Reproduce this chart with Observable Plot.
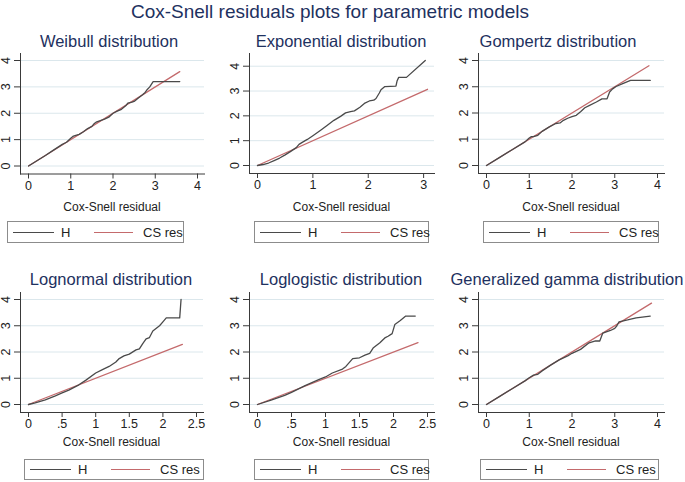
<!DOCTYPE html>
<html><head><meta charset="utf-8">
<script src="https://cdn.jsdelivr.net/npm/d3@7"></script>
<script src="https://cdn.jsdelivr.net/npm/@observablehq/plot@0.6"></script>
<style>
body{margin:0;background:#fff;font-family:"Liberation Sans",Arial,sans-serif;}
#root{position:relative;width:685px;height:482px;overflow:hidden;background:#fff;}
.abs{position:absolute;white-space:nowrap;line-height:1;}
.ttl{color:#1e3160;}
.lg{position:absolute;border:1px solid #8c8c8c;box-sizing:border-box;background:#fff;}
.lg span{position:absolute;}
svg{position:absolute;overflow:visible;}
</style></head><body><div id="root"></div>
<script>
// ---------- data ----------
const mainTitle = "Cox-Snell residuals plots for parametric models";
const panelTitles = ["Weibull distribution","Exponential distribution","Gompertz distribution",
  "Lognormal distribution","Loglogistic distribution","Generalized gamma distribution"];
const xAxisTitle = "Cox-Snell residual";
const seriesNames = ["H","CS res"];

const yTicks = [0,1,2,3,4];
const yTickLabels = ["0","1","2","3","4"];
const xTicks4 = [0,1,2,3,4];
const xTickLabels4 = ["0","1","2","3","4"];
const xTicks3 = [0,1,2,3];
const xTickLabels3 = ["0","1","2","3"];
const xTicks25 = [0,0.5,1,1.5,2,2.5];
const xTickLabels25 = ["0",".5","1","1.5","2","2.5"];

// Nelson-Aalen cumulative hazard H
const weibullX = [0,0.2,0.4,0.6,0.8,0.9,1.0,1.05,1.1,1.2,1.3,1.4,1.5,1.55,1.6,1.7,1.8,1.9,2.0,2.1,2.2,2.3,2.35,2.45,2.5,2.6,2.7,2.76,2.8,2.87,2.95,3.58];
const weibullH = [0,0.2,0.4,0.61,0.82,0.9,1.05,1.12,1.15,1.2,1.3,1.42,1.5,1.6,1.66,1.72,1.78,1.85,2.0,2.08,2.15,2.28,2.38,2.42,2.45,2.58,2.7,2.79,2.88,3.0,3.2,3.2];
const expX = [0,0.1,0.2,0.3,0.4,0.5,0.6,0.7,0.75,0.8,0.9,1.0,1.14,1.25,1.38,1.5,1.59,1.68,1.75,1.85,1.93,2.02,2.1,2.14,2.2,2.23,2.3,2.5,2.52,2.55,2.69,3.03];
const expH = [0,0.04,0.1,0.2,0.3,0.43,0.57,0.72,0.85,0.92,1.05,1.2,1.42,1.6,1.82,1.98,2.12,2.17,2.2,2.35,2.5,2.6,2.63,2.7,2.92,3.05,3.18,3.2,3.4,3.55,3.55,4.23];
const gompX = [0,0.3,0.6,0.9,1.0,1.05,1.1,1.2,1.3,1.47,1.62,1.72,1.8,1.9,2.0,2.1,2.2,2.3,2.4,2.57,2.7,2.82,2.88,2.95,3.03,3.2,3.37,3.83];
const gompH = [0,0.3,0.6,0.9,1.05,1.1,1.1,1.15,1.3,1.47,1.6,1.62,1.72,1.8,1.86,1.91,2.05,2.2,2.28,2.42,2.54,2.54,2.8,2.92,3.01,3.13,3.24,3.24];
const lognX = [0,0.1,0.25,0.4,0.5,0.6,0.75,0.85,1.0,1.1,1.2,1.3,1.35,1.42,1.5,1.6,1.65,1.7,1.75,1.8,1.85,1.95,2.0,2.05,2.25,2.27];
const lognH = [0,0.06,0.18,0.33,0.44,0.55,0.75,0.92,1.2,1.33,1.45,1.62,1.75,1.85,1.92,2.08,2.12,2.32,2.5,2.55,2.8,3.0,3.15,3.3,3.3,4.0];
const loglX = [0,0.2,0.4,0.5,0.7,0.9,1.0,1.1,1.25,1.3,1.4,1.5,1.58,1.65,1.7,1.8,1.88,1.92,1.98,2.02,2.1,2.18,2.32];
const loglH = [0,0.17,0.35,0.46,0.72,0.95,1.05,1.2,1.35,1.45,1.75,1.78,1.88,1.95,2.15,2.35,2.55,2.6,2.7,3.05,3.2,3.37,3.37];
const ggX = [0,0.3,0.6,0.9,1.0,1.1,1.2,1.3,1.5,1.7,1.9,2.0,2.2,2.4,2.55,2.65,2.72,2.9,3.0,3.05,3.1,3.3,3.5,3.83];
const ggH = [0,0.3,0.6,0.9,1.02,1.12,1.15,1.28,1.5,1.7,1.85,1.95,2.1,2.35,2.42,2.42,2.72,2.82,2.9,3.0,3.15,3.22,3.3,3.37];

// Cox-Snell residual range (reference line CS res vs CS res)
const csResMax = [3.58, 3.07, 3.8, 2.29, 2.36, 3.86];
const xDomainMax = [4, 3.07, 4, 2.5, 2.5, 4];
const yDomainMax = [4, 4.23, 4, 4, 4, 4];

const hXs = [weibullX, expX, gompX, lognX, loglX, ggX];
const hYs = [weibullH, expH, gompH, lognH, loglH, ggH];
const xTickSets = [xTicks4, xTicks3, xTicks4, xTicks25, xTicks25, xTicks4];
const xLabelSets = [xTickLabels4, xTickLabels3, xTickLabels4, xTickLabels25, xTickLabels25, xTickLabels4];

// ---------- layout ----------
const frames = [
  {L:20, R:204, T:52.5, B:173}, {L:249, R:434, T:53, B:173}, {L:478, R:664, T:53, B:173},
  {L:20, R:203, T:292, B:412}, {L:249, R:434, T:292, B:412}, {L:478, R:664, T:292, B:412}
];
const titleCenters = [109, 341, 558, 111, 341, 567];
const legendBoxes = [
  {x:7, y:221, w:177, h:22}, {x:254, y:221, w:175, h:22}, {x:483, y:221, w:176, h:22},
  {x:24, y:459, w:180, h:21}, {x:254, y:459, w:175, h:21}, {x:480, y:459, w:179, h:21}
];
const COL_H = "#4a4a4a", COL_CS = "#c46a6c", NAVY = "#1e3160", INK = "#222";
const FONT = "'Liberation Sans', Arial, sans-serif";

const root = document.getElementById("root");
function addText(txt, cx, baseline, size, cls, color) {
  const d = document.createElement("div");
  d.className = "abs " + (cls || "");
  d.textContent = txt;
  d.style.fontSize = size + "px";
  d.style.left = cx + "px";
  d.style.top = (baseline - 0.8465 * size) + "px";
  d.style.transform = "translateX(-50%)";
  if (color) d.style.color = color;
  root.appendChild(d);
}

addText(mainTitle, 330, 18.5, 19, "ttl");

for (let i = 0; i < 6; i++) {
  const f = frames[i];
  const mL = 22, mR = 8, mT = 6, mB = 24;
  const W = (f.R - f.L) + mL + mR, H = (f.B - f.T) + mT + mB;
  const hData = hXs[i].map((x, j) => ({x, y: hYs[i][j], s: seriesNames[0]}));
  const csData = [0, csResMax[i]].map(v => ({x: v, y: v, s: seriesNames[1]}));
  const xt = xTickSets[i], xl = xLabelSets[i];
  const svg = Plot.plot({
    width: W, height: H,
    marginLeft: mL, marginRight: mR, marginTop: mT, marginBottom: mB,
    insetLeft: 8, insetRight: 7, insetTop: 7, insetBottom: 8,
    x: {domain: [0, xDomainMax[i]]},
    y: {domain: [0, yDomainMax[i]]},
    style: {fontFamily: FONT, fontSize: "12.5px", color: INK, background: "transparent", overflow: "visible"},
    marks: [
      Plot.gridY(yTicks, {stroke: "#dbe7ec", strokeOpacity: 1, strokeWidth: 1}),
      Plot.line(csData, {x: "x", y: "y", stroke: COL_CS, strokeWidth: 1.3}),
      Plot.line(hData, {x: "x", y: "y", stroke: COL_H, strokeWidth: 1.3}),
      Plot.frame({anchor: "left", stroke: "#3a3a3a"}),
      Plot.frame({anchor: "bottom", stroke: "#3a3a3a"}),
      Plot.axisX(xt, {tickSize: 5, tickPadding: 2, tickFormat: d => xl[xt.indexOf(d)], label: null, stroke: "#3a3a3a", fill: INK, fontSize: 12.5}),
      Plot.axisY(yTicks, {tickSize: 6, tickFormat: () => "", label: null, stroke: "#3a3a3a"}),
      Plot.text(yTicks, {y: d => d, text: d => yTickLabels[yTicks.indexOf(d)], frameAnchor: "left", dx: -15,
        rotate: -90, textAnchor: "middle", lineAnchor: "middle", fontSize: 12.5, fill: INK})
    ]
  });
  svg.style.left = (f.L - mL) + "px";
  svg.style.top = (f.T - mT) + "px";
  root.appendChild(svg);

  const row = i < 3 ? 0 : 1;
  addText(panelTitles[i], titleCenters[i], row ? 285 : 47, 16.5, "ttl");
  addText(xAxisTitle, (f.L + f.R) / 2, row ? 446 : 211.5, 12, "", INK);

  const b = legendBoxes[i];
  const lg = document.createElement("div");
  lg.className = "lg";
  Object.assign(lg.style, {left: b.x + "px", top: b.y + "px", width: b.w + "px", height: b.h + "px"});
  const mid = b.h / 2 - 1;
  const items = [
    {x0: 5, x1: 46, tx: 53, c: COL_H, t: seriesNames[0]},
    {x0: 86, x1: 125, tx: 135, c: COL_CS, t: seriesNames[1]}
  ];
  for (const it of items) {
    const ln = document.createElement("span");
    Object.assign(ln.style, {left: it.x0 + "px", top: (mid - 0.5) + "px", width: (it.x1 - it.x0) + "px", height: "0", borderTop: "1.3px solid " + it.c});
    lg.appendChild(ln);
    const tx = document.createElement("span");
    tx.textContent = it.t;
    Object.assign(tx.style, {left: it.tx + "px", top: (mid - 7.5) + "px", fontSize: "13px", lineHeight: "15px", color: INK, whiteSpace: "nowrap"});
    lg.appendChild(tx);
  }
  root.appendChild(lg);
}
</script></body></html>
